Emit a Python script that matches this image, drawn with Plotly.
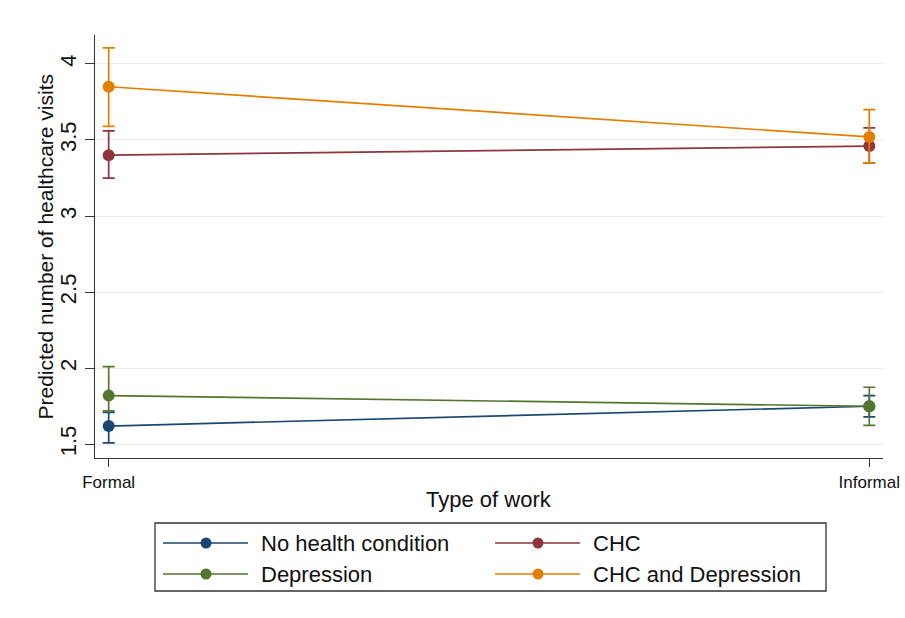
import plotly.graph_objects as go

work_types = ["Formal", "Informal"]
series_names = ["No health condition", "CHC", "Depression", "CHC and Depression"]
series_colors = ["#1a476f", "#90353b", "#55752f", "#e37e00"]

no_health = [1.62, 1.75]
no_health_lo = [1.51, 1.68]
no_health_hi = [1.71, 1.82]

chc = [3.40, 3.46]
chc_lo = [3.25, 3.35]
chc_hi = [3.56, 3.58]

depression = [1.82, 1.75]
depression_lo = [1.72, 1.625]
depression_hi = [2.01, 1.875]

chc_dep = [3.85, 3.52]
chc_dep_lo = [3.59, 3.35]
chc_dep_hi = [4.105, 3.70]

y_ticks = [1.5, 2, 2.5, 3, 3.5, 4]
y_tick_labels = ["1.5", "2", "2.5", "3", "3.5", "4"]

series = [
    (no_health, no_health_lo, no_health_hi),
    (chc, chc_lo, chc_hi),
    (depression, depression_lo, depression_hi),
    (chc_dep, chc_dep_lo, chc_dep_hi),
]

W, H = 905, 618
L, R, T, B = 95, 22, 35, 160
PW, PH = W - L - R, H - T - B


def px_x(p):
    return (p - L) / PW


def px_y(p):
    return (H - B - p) / PH


font = "Liberation Sans, Arial, sans-serif"

fig = go.Figure()
for name, color, (vals, lo, hi) in zip(series_names, series_colors, series):
    fig.add_trace(go.Scatter(
        x=[0, 1], y=vals, name=name, mode="lines+markers", showlegend=False,
        line=dict(color=color, width=1.7),
        marker=dict(color=color, size=12),
        error_y=dict(type="data", symmetric=False,
                     array=[h - v for h, v in zip(hi, vals)],
                     arrayminus=[v - l for v, l in zip(vals, lo)],
                     color=color, thickness=1.7, width=6),
    ))

# manual legend (2 columns x 2 rows, row-major)
shapes = [dict(type="rect", xref="paper", yref="paper",
               x0=px_x(155), x1=px_x(826), y0=px_y(523), y1=px_y(591),
               line=dict(color="#333333", width=1.3), fillcolor="white", layer="below")]
annotations = []
col_x = [163, 495]
row_y = [543, 574]
for i, (name, color) in enumerate(zip(series_names, series_colors)):
    cx = col_x[i % 2]
    cy = row_y[i // 2]
    shapes.append(dict(type="line", xref="paper", yref="paper",
                       x0=px_x(cx), x1=px_x(cx + 85), y0=px_y(cy), y1=px_y(cy),
                       line=dict(color=color, width=1.7)))
    shapes.append(dict(type="circle", xref="paper", yref="paper",
                       xsizemode="pixel", ysizemode="pixel",
                       xanchor=px_x(cx + 43), yanchor=px_y(cy),
                       x0=-5.5, x1=5.5, y0=-5.5, y1=5.5,
                       line=dict(color=color, width=0), fillcolor=color))
    annotations.append(dict(xref="paper", yref="paper", x=px_x(cx + 96), y=px_y(cy),
                            xanchor="left", yanchor="middle", showarrow=False,
                            text=name, font=dict(size=22, family=font, color="#111111")))

annotations.append(dict(xref="paper", yref="paper", x=0.5, y=px_y(499),
                        xanchor="center", yanchor="middle", showarrow=False,
                        text="Type of work", font=dict(size=22, family=font, color="#111111")))
annotations.append(dict(xref="paper", yref="paper", x=px_x(45), y=0.5,
                        xanchor="center", yanchor="middle", showarrow=False, textangle=-90,
                        text="Predicted number of healthcare visits",
                        font=dict(size=21, family=font, color="#111111")))

fig.update_layout(
    width=W, height=H,
    paper_bgcolor="white", plot_bgcolor="white",
    margin=dict(l=L, r=R, t=T, b=B),
    font=dict(family=font, color="#111111"),
    showlegend=False,
    shapes=shapes, annotations=annotations,
    xaxis=dict(range=[-0.018, 1.018], tickvals=[0, 1], ticktext=work_types, automargin=False,
               showgrid=False, zeroline=False, showline=True, linecolor="#333333", linewidth=1.3,
               ticks="outside", ticklen=8, tickcolor="#333333",
               tickfont=dict(size=17)),
    yaxis=dict(range=[1.41, 4.19], tickvals=y_ticks, ticktext=y_tick_labels, tickangle=-90,
               automargin=False,
               showgrid=True, gridcolor="#e6eef1", gridwidth=1, zeroline=False,
               showline=True, linecolor="#333333", linewidth=1.3,
               ticks="outside", ticklen=9, tickcolor="#333333",
               tickfont=dict(size=22)),
)

fig.write_html("out.html", config={"displayModeBar": False},
               post_script="document.body.style.margin='0';")
